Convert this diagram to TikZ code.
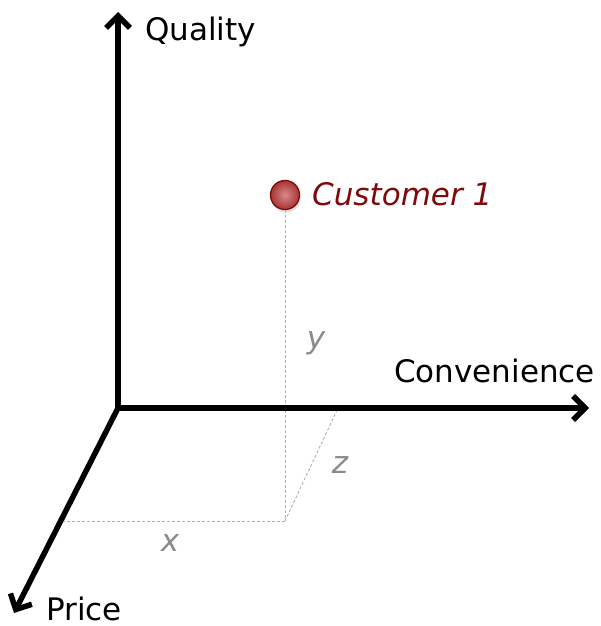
\documentclass[tikz,border=0pt]{standalone}
\usepackage{fontspec}
\setmainfont{DejaVu Sans}
\usetikzlibrary{arrows.meta,shadows}
\definecolor{custred}{HTML}{7F0A0A}
\definecolor{ballin}{HTML}{D88A8A}
\definecolor{ballout}{HTML}{A83434}
\definecolor{lblgray}{HTML}{8A8A8A}
\definecolor{dashgray}{HTML}{B0B0B0}
\begin{document}
\begin{tikzpicture}[x=1pt,y=-1pt,
  axis/.style={line width=5.5pt,-{Straight Barb[length=12pt,width=24pt]}},
  guide/.style={dashgray,line width=0.9pt,dash pattern=on 3pt off 2pt},
  axlabel/.style={font=\fontsize{31}{37}\selectfont,inner sep=0pt},
  varlabel/.style={font=\fontsize{31}{37}\selectfont\itshape,text=lblgray,inner sep=0pt},
  point/.style={circle,minimum size=29pt,inner sep=0pt,draw=custred,line width=1.3pt,inner color=ballin,outer color=ballout,drop shadow={shadow xshift=1pt,shadow yshift=-3pt,opacity=0.25}}
]
\useasboundingbox (0,0) rectangle (600,626);
\coordinate (O) at (118,408);
\coordinate (qtip) at (118,12);
\coordinate (ctip) at (589,408);
\coordinate (ptip) at (14,613);
\coordinate (base) at (285,521);
\coordinate (xend) at (64,521);
\coordinate (zend) at (338,408);
% guides
\node[point] (c1) at (285,195) {};
\draw[guide] (c1.south) -- (base);
\draw[guide] (base) -- (xend);
\draw[guide] (base) -- (zend);
% axes
\draw[axis] (O) -- (qtip);
\draw[axis] (O) -- (ctip);
\draw[axis] (O) -- (ptip);
\fill (O) circle (2.75pt);
% labels
\node[axlabel,anchor=base west] (q) at (145,41) {Quality};
\node[axlabel,anchor=base west] (cv) at (394,382) {Convenience};
\node[axlabel,anchor=base west] (pr) at (46,620) {Price};
\node[axlabel,anchor=base west,font=\fontsize{31}{37}\selectfont\itshape,text=custred] (cn) at (312,205) {Customer 1};
\node[varlabel] (ly) at (316,343) {y};
\node[varlabel] (lz) at (340,465) {z};
\node[varlabel] (lx) at (170,543) {x};
\end{tikzpicture}
\end{document}
